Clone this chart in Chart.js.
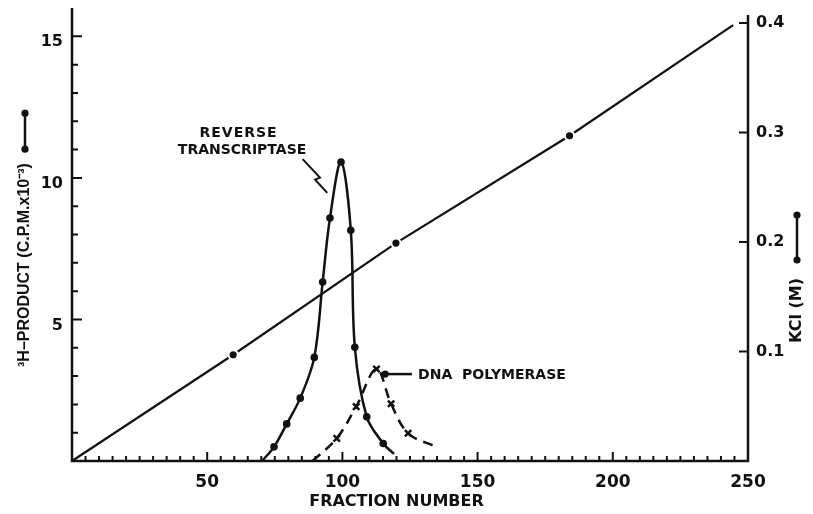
<!DOCTYPE html>
<html>
<head>
<meta charset="utf-8">
<script src="https://cdn.jsdelivr.net/npm/chart.js@4.4.1/dist/chart.umd.min.js"></script>
<style>
  html, body { margin: 0; padding: 0; background: #fff; }
  #wrap { width: 813px; height: 514px; }
</style>
</head>
<body>
<div id="wrap"><canvas id="chart"></canvas></div>
<script>
// Reverse transcriptase peak: fraction number vs 3H-product (c.p.m. x 10^-3)
const rtFraction = [70.3, 74.7, 79.4, 84.4, 89.6, 92.7, 95.4, 99.5, 103.1, 104.6, 109.0, 115.1, 119.1];
const rtCpm      = [0,    0.50, 1.31, 2.22, 3.66, 6.32, 8.58, 10.56, 8.15, 4.02, 1.56, 0.62, 0.25];

// DNA polymerase peak (dashed, x marks)
const polFraction = [89.0, 97.9, 105.1, 112.6, 118.0, 124.3, 134.9];
const polCpm      = [0,    0.80, 1.92, 3.25,  2.02,  0.98,  0.49];

// KCl gradient, right axis (M)
const kclFraction = [0, 59.6, 119.8, 184.0, 244.5];
const kclMolar    = [0, 0.097, 0.199, 0.297, 0.398];

const xTicks = [50, 100, 150, 200, 250];
const cpmTicks = [5, 10, 15];
const kclTicks = [0.1, 0.2, 0.3, 0.4];

const ink = '#111';
const font = 'DejaVu Sans';

const pairs = (xs, ys) => xs.map((v, i) => ({ x: v, y: ys[i] }));
// no marker on the two loose ends of each curve
const endsBare = r => ctx => (ctx.dataIndex === 0 || ctx.dataIndex === ctx.dataset.data.length - 1) ? 0 : r;

// axis lines and inward tick marks
const axisFrame = {
  id: 'axisFrame',
  afterDraw(chart) {
    const { ctx, chartArea: a, scales: { x, y, yKcl } } = chart;
    ctx.save();
    ctx.strokeStyle = ink;
    ctx.lineWidth = 2.5;
    ctx.beginPath();
    ctx.moveTo(a.left, a.top);
    ctx.lineTo(a.left, a.bottom);
    ctx.lineTo(a.right, a.bottom);
    ctx.lineTo(a.right, a.top + 7);
    ctx.stroke();

    ctx.lineWidth = 2;
    ctx.beginPath();
    for (let v = 5; v < 250; v += 5) {
      const p = x.getPixelForValue(v);
      ctx.moveTo(p, a.bottom);
      ctx.lineTo(p, a.bottom - (v % 50 === 0 ? 9 : 5));
    }
    for (let v = 1; v <= 15; v++) {
      const p = y.getPixelForValue(v);
      ctx.moveTo(a.left, p);
      ctx.lineTo(a.left + (v % 5 === 0 ? 10 : 6), p);
    }
    kclTicks.forEach(v => {
      const p = yKcl.getPixelForValue(v);
      ctx.moveTo(a.right, p);
      ctx.lineTo(a.right - 9, p);
    });
    ctx.stroke();
    ctx.restore();
  }
};

// vertical "dot—dot" key next to a rotated title
function keySymbol(ctx, from, to) {
  ctx.beginPath();
  ctx.moveTo(from, 0);
  ctx.lineTo(to, 0);
  ctx.stroke();
  [from, to].forEach(p => {
    ctx.beginPath();
    ctx.arc(p, 0, 3.6, 0, Math.PI * 2);
    ctx.fill();
  });
}

const axisTitles = {
  id: 'axisTitles',
  afterDraw(chart) {
    const { ctx, chartArea: a } = chart;
    ctx.save();
    ctx.fillStyle = ink;
    ctx.strokeStyle = ink;
    ctx.lineWidth = 2.5;
    ctx.textBaseline = 'middle';
    ctx.textAlign = 'left';

    // left
    ctx.save();
    ctx.translate(a.left - 47, a.top + 359);
    ctx.rotate(-Math.PI / 2);
    ctx.font = 'bold 16px "Liberation Sans"';
    const lt = '³H–PRODUCT (C.P.M.x10⁻³)';
    ctx.fillText(lt, 0, 0);
    const lw = ctx.measureText(lt).width;
    keySymbol(ctx, lw + 14, lw + 50);
    ctx.restore();

    // right
    ctx.save();
    ctx.translate(a.right + 49, a.top + 335);
    ctx.rotate(-Math.PI / 2);
    ctx.font = `bold 16px "${font}"`;
    const rt = 'KCl (M)';
    ctx.fillText(rt, 0, 0);
    const rw = ctx.measureText(rt).width;
    keySymbol(ctx, rw + 18, rw + 63);
    ctx.restore();

    // bottom
    ctx.font = `bold 16px "${font}"`;
    ctx.textAlign = 'center';
    ctx.fillText('FRACTION NUMBER', a.left + a.width * 0.48, a.bottom + 41);
    ctx.restore();
  }
};

// curve labels with leaders, anchored in data units
const curveLabels = {
  id: 'curveLabels',
  afterDatasetsDraw(chart) {
    const { ctx, scales: { x, y } } = chart;
    const px = v => x.getPixelForValue(v);
    const py = v => y.getPixelForValue(v);
    ctx.save();
    ctx.fillStyle = ink;
    ctx.strokeStyle = ink;
    ctx.font = `bold 14px "${font}"`;
    ctx.textBaseline = 'middle';
    ctx.textAlign = 'center';
    ctx.letterSpacing = '1px';
    ctx.fillText('REVERSE', px(61.6), py(11.58));
    ctx.letterSpacing = '0px';
    ctx.fillText('TRANSCRIPTASE', px(62.9), py(10.98));

    ctx.lineWidth = 2;
    ctx.beginPath();
    [[85.3, 10.66], [91.7, 10.01], [89.9, 9.94], [94.4, 9.47]].forEach(([a, b], i) => {
      if (i) ctx.lineTo(px(a), py(b)); else ctx.moveTo(px(a), py(b));
    });
    ctx.stroke();

    ctx.lineWidth = 2.5;
    ctx.beginPath();
    ctx.moveTo(px(115.8), py(3.07));
    ctx.lineTo(px(125.7), py(3.07));
    ctx.stroke();
    ctx.beginPath();
    ctx.arc(px(115.8), py(3.07), 3.6, 0, Math.PI * 2);
    ctx.fill();
    ctx.textAlign = 'left';
    ctx.fillText('DNA  POLYMERASE', px(128.0), py(3.04));
    ctx.restore();
  }
};

const tickFont = size => ({ family: font, weight: 'bold', size: size });

new Chart(document.getElementById('chart'), {
  type: 'line',
  data: {
    datasets: [
      {
        label: 'Reverse transcriptase',
        data: pairs(rtFraction, rtCpm),
        yAxisID: 'y',
        borderColor: ink,
        borderWidth: 2.5,
        tension: 0.35,
        pointRadius: endsBare(3.8),
        pointBackgroundColor: ink,
        pointBorderWidth: 0,
        clip: false,
      },
      {
        label: 'DNA polymerase',
        data: pairs(polFraction, polCpm),
        yAxisID: 'y',
        borderColor: ink,
        borderWidth: 2.5,
        borderDash: [10, 7],
        tension: 0.35,
        pointStyle: 'crossRot',
        pointRadius: endsBare(4.5),
        pointBorderColor: ink,
        pointBorderWidth: 2.5,
        clip: false,
      },
      {
        label: 'KCl',
        data: pairs(kclFraction, kclMolar),
        yAxisID: 'yKcl',
        borderColor: ink,
        borderWidth: 2.2,
        tension: 0,
        pointRadius: endsBare(4.6),
        pointBackgroundColor: ink,
        pointBorderColor: '#fff',
        pointBorderWidth: 2,
        clip: false,
      },
    ],
  },
  options: {
    responsive: true,
    maintainAspectRatio: false,
    animation: false,
    layout: { padding: { top: 8, left: 0, right: 0, bottom: 0 } },
    scales: {
      x: {
        type: 'linear',
        min: 0,
        max: 250,
        grid: { display: false, drawTicks: false },
        border: { display: false },
        afterBuildTicks: s => { s.ticks = xTicks.map(v => ({ value: v })); },
        afterFit: s => { s.height = 53; s.paddingLeft = 0; s.paddingRight = 0; },
        ticks: { font: tickFont(17), color: ink, padding: 11, maxRotation: 0, autoSkip: false },
      },
      y: {
        position: 'left',
        min: 0,
        max: 16,
        grid: { display: false, drawTicks: false },
        border: { display: false },
        afterBuildTicks: s => { s.ticks = cpmTicks.map(v => ({ value: v })); },
        afterFit: s => { s.width = 72; s.paddingTop = 0; s.paddingBottom = 0; },
        ticks: { font: tickFont(16), color: ink, padding: 9, labelOffset: 6 },
      },
      yKcl: {
        position: 'right',
        min: 0,
        max: 0.4137,
        grid: { display: false, drawTicks: false },
        border: { display: false },
        afterBuildTicks: s => { s.ticks = kclTicks.map(v => ({ value: v })); },
        afterFit: s => { s.width = 65; s.paddingTop = 0; s.paddingBottom = 0; },
        ticks: { font: tickFont(16), color: ink, padding: 8 },
      },
    },
    plugins: {
      legend: { display: false },
      tooltip: { enabled: false },
    },
  },
  plugins: [curveLabels, axisFrame, axisTitles],
});
</script>
</body>
</html>
